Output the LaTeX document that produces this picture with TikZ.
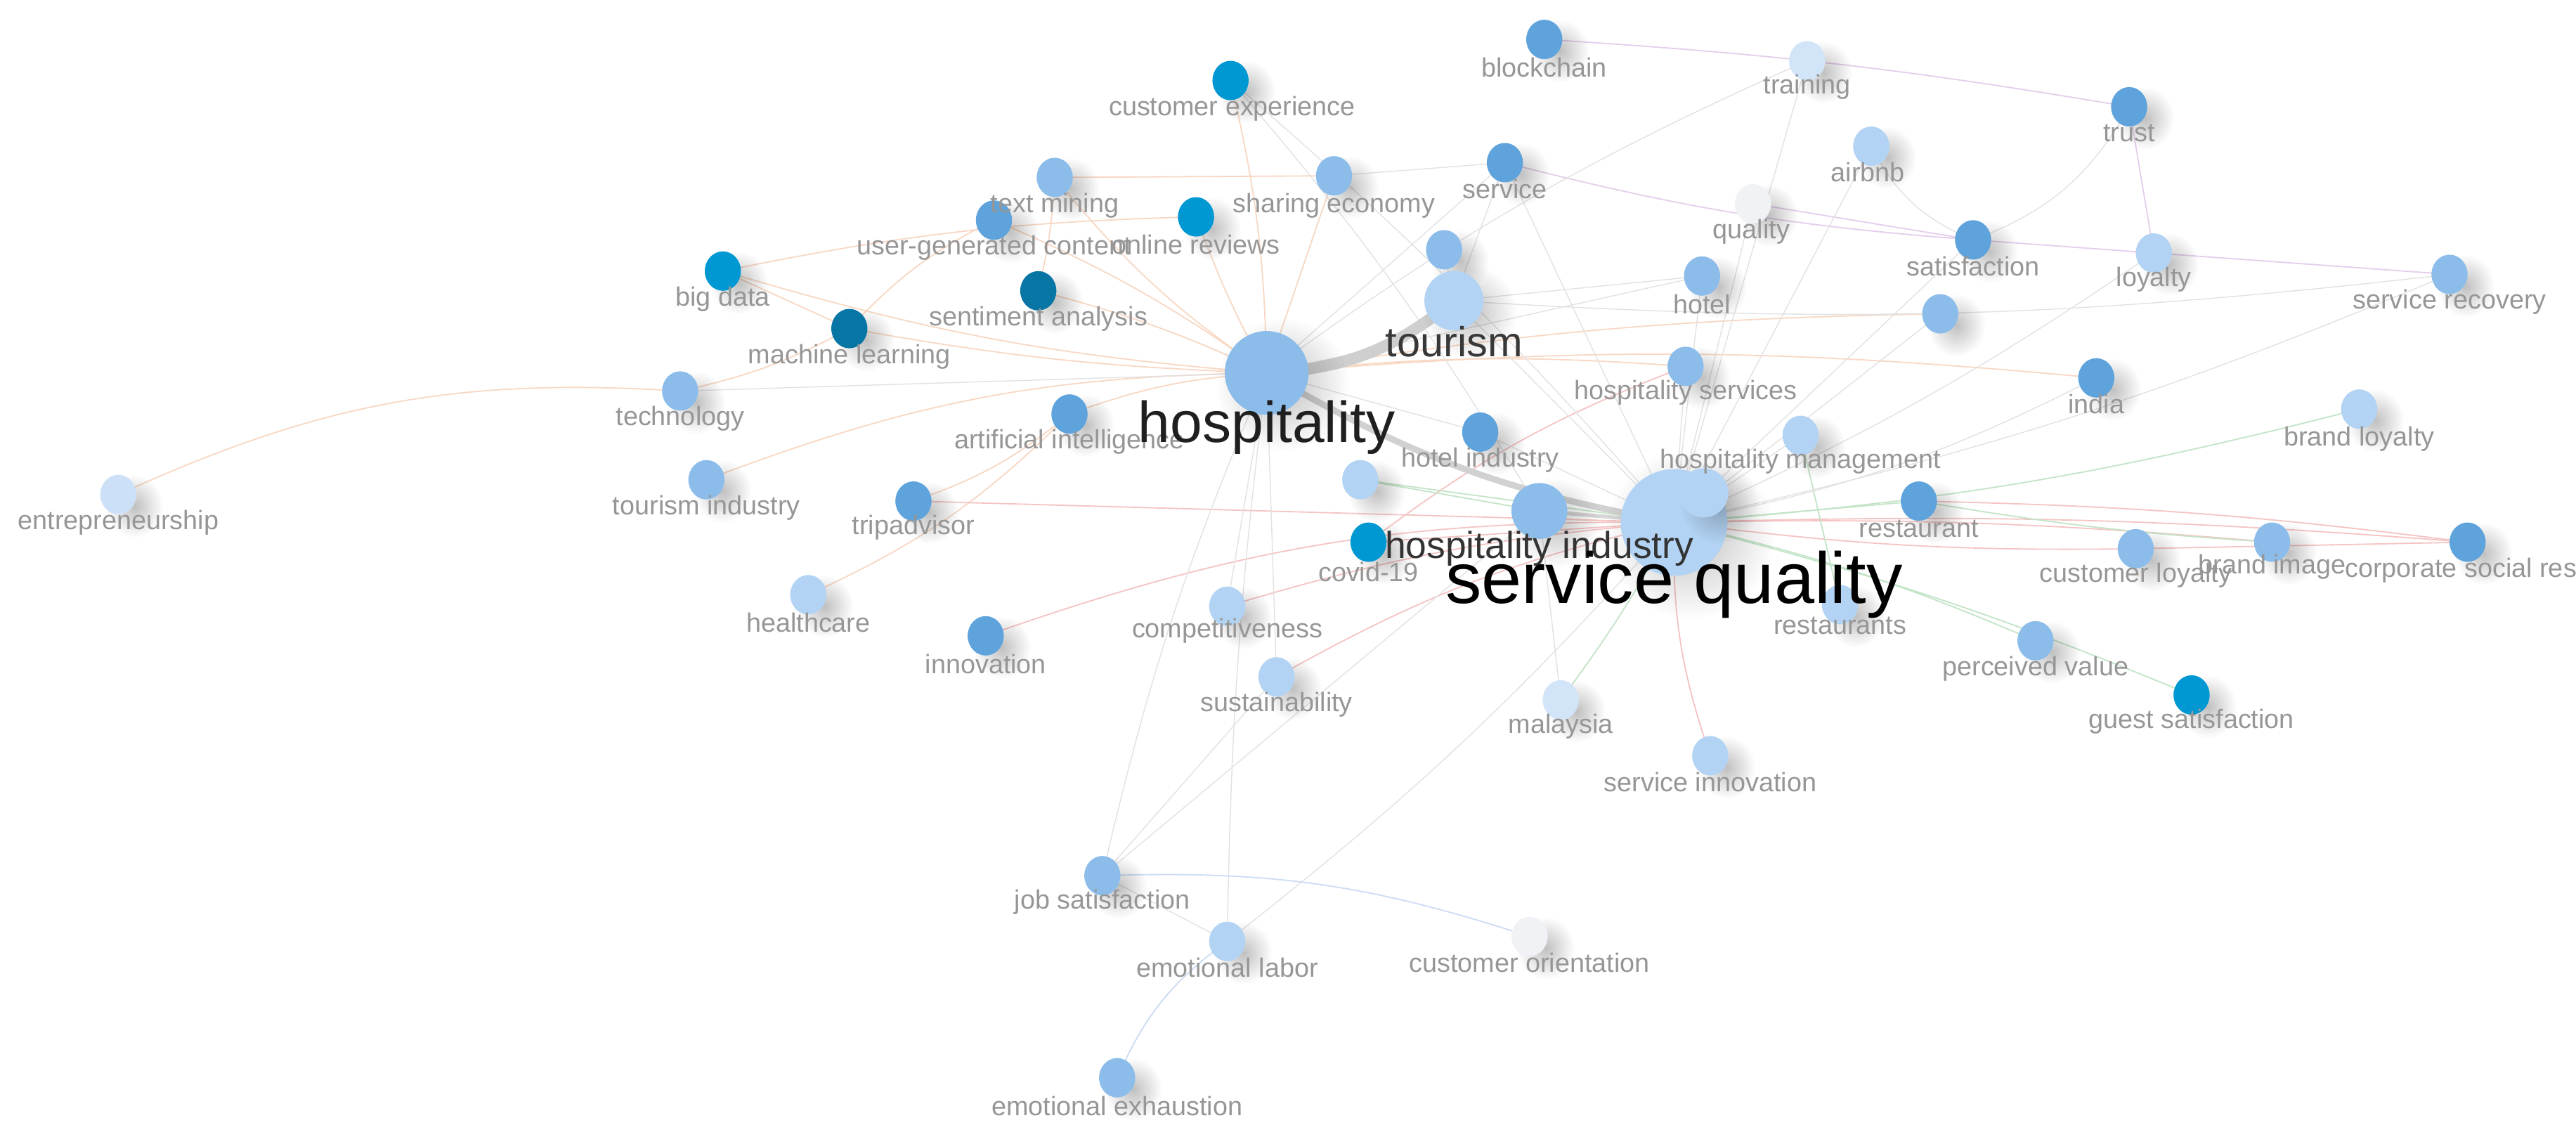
\documentclass[tikz,border=0pt]{standalone}
\usepackage{fontspec}
\setmainfont{Liberation Sans}
\usetikzlibrary{shapes.geometric,shadows,backgrounds,fadings}
\definecolor{cA}{RGB}{8,118,165}
\definecolor{cB}{RGB}{0,152,210}
\definecolor{cC}{RGB}{94,163,220}
\definecolor{cD}{RGB}{140,189,234}
\definecolor{cE}{RGB}{178,211,243}
\definecolor{cF}{RGB}{210,228,248}
\definecolor{cG}{RGB}{240,242,245}
\definecolor{lbl}{RGB}{150,150,150}
\definecolor{eO}{RGB}{248,216,196}
\definecolor{eR}{RGB}{245,196,196}
\definecolor{eG}{RGB}{196,228,200}
\definecolor{eP}{RGB}{228,206,236}
\definecolor{eK}{RGB}{226,226,226}
\definecolor{eB}{RGB}{204,220,244}
\tikzfading[name=fuzzshadow, inner color=transparent!45, outer color=transparent!100]
\tikzset{
  nd/.style={ellipse, inner sep=0pt, minimum width=0.44cm, minimum height=0.48cm,
    general shadow={fill=black, path fading=fuzzshadow, fit fading=true, shadow scale=1.6, shadow xshift=3.5pt, shadow yshift=-2.5pt, opacity=0.45}},
  big/.style={minimum width=#1, minimum height=#1},
  lb/.style={text=lbl, inner sep=0pt, font=\fontsize{9.2}{10}\selectfont},
  eo/.style={draw=eO, line width=0.45pt},
  er/.style={draw=eR, line width=0.45pt},
  eg/.style={draw=eG, line width=0.45pt},
  ep/.style={draw=eP, line width=0.45pt},
  ek/.style={draw=eK, line width=0.35pt},
  eb/.style={draw=eB, line width=0.45pt}
}
\begin{document}
\begin{tikzpicture}[x=0.02cm,y=0.02cm]
\useasboundingbox (0,0) rectangle (1568,-696);
% ---------- circles ----------
\node[nd, fill=cC] (bc) at (940,-24) {};
\node[nd, fill=cF] (tr) at (1100,-37) {};
\node[nd, fill=cC] (tu) at (1296,-65) {};
\node[nd, fill=cB] (ce) at (749,-49) {};
\node[nd, fill=cE] (ab) at (1139,-89) {};
\node[nd, fill=cD] (tm) at (642,-108) {};
\node[nd, fill=cD] (se) at (812,-107) {};
\node[nd, fill=cC] (sv) at (916,-99) {};
\node[nd, fill=cG] (qu) at (1067,-124) {};
\node[nd, fill=cC] (ug) at (605,-134) {};
\node[nd, fill=cB] (or) at (728,-132) {};
\node[nd, fill=cC] (sa) at (1201,-146) {};
\node[nd, fill=cE] (lo) at (1311,-154) {};
\node[nd, fill=cD] (sr) at (1491,-167) {};
\node[nd, fill=cB] (bd) at (440,-165) {};
\node[nd, fill=cA] (sn) at (632,-177) {};
\node[nd, fill=cD] (ho) at (1036,-168) {};
\node[nd, fill=cD] (u1) at (879,-152) {};
\node[nd, fill=cD] (u2) at (1181,-191) {};
\node[nd, fill=cA] (ml) at (517,-200) {};
\node[nd, fill=cD] (hs) at (1026,-223) {};
\node[nd, fill=cC] (in) at (1276,-230) {};
\node[nd, fill=cD] (te) at (414,-238) {};
\node[nd, fill=cC] (ai) at (651,-252) {};
\node[nd, fill=cC] (hi) at (901,-263) {};
\node[nd, fill=cE] (hm) at (1096,-265) {};
\node[nd, fill=cE] (bl) at (1436,-249) {};
\node[nd, fill=cF!80!cE] (en) at (72,-301) {};
\node[nd, fill=cD] (ti) at (430,-292) {};
\node[nd, fill=cC] (ta) at (556,-305) {};
\node[nd, fill=cE] (u3) at (828,-292) {};
\node[nd, fill=cC] (rt) at (1168,-305) {};
\node[nd, fill=cD] (cl) at (1300,-334) {};
\node[nd, fill=cD] (bi) at (1383,-330) {};
\node[nd, fill=cC] (cs) at (1502,-330) {};
\node[nd, fill=cE] (rs) at (1120,-368) {};
\node[nd, fill=cE] (hc) at (492,-362) {};
\node[nd, fill=cE] (cp) at (747,-369) {};
\node[nd, fill=cC] (iv) at (600,-387) {};
\node[nd, fill=cD] (pv) at (1239,-390) {};
\node[nd, fill=cB] (gs) at (1334,-423) {};
\node[nd, fill=cE] (su) at (777,-412) {};
\node[nd, fill=cF] (ma) at (950,-426) {};
\node[nd, fill=cE] (si) at (1041,-460) {};
\node[nd, fill=cD] (js) at (671,-533) {};
\node[nd, fill=cE] (el) at (747,-573) {};
\node[nd, fill=cG] (co) at (931,-570) {};
\node[nd, fill=cD] (ee) at (680,-656) {};
\node[nd, fill=cE, big=0.72cm] (to) at (885,-183) {};
\node[nd, fill=cD, big=1.02cm] (hp) at (771,-227) {};
\node[nd, fill=cD, big=0.68cm] (hn) at (937,-311) {};
\node[nd, fill=cE, big=1.3cm] (sq) at (1019,-318) {};
\node[nd, fill=cE, big=0.6cm] (u4) at (1037,-300) {};
\node[nd, fill=cB] (cv) at (833,-330) {};
% ---------- labels ----------
\node[lb] (l-bc) at (940,-41) {blockchain};
\node[lb] (l-tr) at (1100,-53) {training};
\node[lb] (l-tu) at (1296,-81) {trust};
\node[lb] (l-ce) at (750,-66) {customer experience};
\node[lb] (l-ab) at (1137,-105) {airbnb};
\node[lb] (l-tm) at (642,-125) {text mining};
\node[lb] (l-se) at (812,-125) {sharing economy};
\node[lb] (l-sv) at (916,-115) {service};
\node[lb] (l-qu) at (1066,-141) {quality};
\node[lb] (l-ug) at (605,-151) {user-generated content};
\node[lb] (l-or) at (728,-149) {online reviews};
\node[lb] (l-sa) at (1201,-162) {satisfaction};
\node[lb] (l-lo) at (1311,-170) {loyalty};
\node[lb] (l-sr) at (1491,-184) {service recovery};
\node[lb] (l-bd) at (440,-182) {big data};
\node[lb] (l-sn) at (632,-194) {sentiment analysis};
\node[lb] (l-ho) at (1036,-185) {hotel};
\node[lb] (l-ml) at (517,-217) {machine learning};
\node[lb] (l-hs) at (1026,-239) {hospitality services};
\node[lb] (l-in) at (1276,-246) {india};
\node[lb] (l-te) at (414,-255) {technology};
\node[lb] (l-ai) at (651,-269) {artificial intelligence};
\node[lb] (l-hi) at (901,-280) {hotel industry};
\node[lb] (l-hm) at (1096,-281) {hospitality management};
\node[lb] (l-bl) at (1436,-267) {brand loyalty};
\node[lb] (l-en) at (72,-318) {entrepreneurship};
\node[lb] (l-ti) at (430,-309) {tourism industry};
\node[lb] (l-ta) at (556,-321) {tripadvisor};
\node[lb] (l-rt) at (1168,-322) {restaurant};
\node[lb] (l-cv) at (833,-348) {covid-19};
\node[lb] (l-cl) at (1300,-350) {customer loyalty};
\node[lb] (l-bi) at (1383,-345) {brand image};
\node[lb, anchor=west] (l-cs) at (1427,-347) {corporate social responsibility};
\node[lb] (l-rs) at (1120,-381) {restaurants};
\node[lb] (l-hc) at (492,-379) {healthcare};
\node[lb] (l-cp) at (747,-384) {competitiveness};
\node[lb] (l-iv) at (600,-404) {innovation};
\node[lb] (l-pv) at (1239,-407) {perceived value};
\node[lb] (l-gs) at (1334,-439) {guest satisfaction};
\node[lb] (l-su) at (777,-429) {sustainability};
\node[lb] (l-ma) at (950,-442) {malaysia};
\node[lb] (l-si) at (1041,-476) {service innovation};
\node[lb] (l-js) at (671,-549) {job satisfaction};
\node[lb] (l-el) at (747,-589) {emotional labor};
\node[lb] (l-co) at (931,-586) {customer orientation};
\node[lb] (l-ee) at (680,-673) {emotional exhaustion};
\node[inner sep=0pt, text=black!78, font=\fontsize{14.5}{16}\selectfont] (l-to) at (885,-208) {tourism};
\node[inner sep=0pt, text=black!88, font=\fontsize{20}{22}\selectfont] (l-hp) at (771,-260) {hospitality};
\node[inner sep=0pt, text=black!80, font=\fontsize{13}{15}\selectfont] (l-hn) at (937,-334) {hospitality industry};
\node[inner sep=0pt, text=black, font=\fontsize{25}{28}\selectfont] (l-sq) at (1019,-356) {service quality};
% ---------- connectors ----------
\begin{pgfonlayer}{background}
% orange cluster
\draw[eo] (hp.center) to[bend left=6] (bd.center);
\draw[eo] (hp.center) to[bend left=4] (ml.center);
\draw[eo] (hp.center) to[bend right=5] (sn.center);
\draw[eo] (hp.center) to[bend left=8] (tm.center);
\draw[eo] (hp.center) to[bend right=6] (ug.center);
\draw[eo] (hp.center) to[bend left=4] (or.center);
\draw[eo] (hp.center) to[bend right=8] (ai.center);
\draw[eo] (hp.center) to[bend right=10] (ti.center);
\draw[eo] (hp.center) to[bend right=6] (ce.center);
\draw[eo] (hp.center) -- (se.center);
\draw[eo] (hp.center) to[bend left=4] (u2.center);
\draw[eo] (hp.center) to[bend left=5] (hs.center);
\draw[eo] (en.center) to[bend left=14] (te.center);
\draw[eo] (ml.center) to[bend left=8] (te.center);
\draw[eo] (tm.center) -- (se.center);
\draw[eo] (tm.center) to[bend left=5] (sn.center);
\draw[eo] (bd.center) to[bend left=5] (or.center);
\draw[eo] (bd.center) -- (ml.center);
\draw[eo] (ug.center) to[bend right=10] (ml.center);
\draw[eo] (hc.center) to[bend right=10] (ai.center);
\draw[eo] (ta.center) to[bend right=10] (ai.center);
\draw[eo] (hp.center) to[bend left=5] (in.center);
% red cluster
\draw[er] (ta.center) -- (sq.center);
\draw[er] (iv.center) to[bend left=10] (sq.center);
\draw[er] (cv.center) -- (sq.center);
\draw[er] (su.center) to[bend left=8] (sq.center);
\draw[er] (cp.center) to[bend left=6] (sq.center);
\draw[er] (sq.center) to[bend right=4] (cl.center);
\draw[er] (sq.center) to[bend left=3] (bi.center);
\draw[er] (sq.center) to[bend left=3] (cs.center);
\draw[er] (sq.center) to[bend right=10] (si.center);
\draw[er] (cl.center) -- (cs.center);
\draw[er] (rt.center) to[bend left=3] (cs.center);
\draw[er] (cv.center) to[bend left=8] (hs.center);
% green cluster
\draw[eg] (sq.center) to[bend right=5] (bl.center);
\draw[eg] (sq.center) to[bend left=4] (ma.center);
\draw[eg] (sq.center) to[bend left=5] (pv.center);
\draw[eg] (sq.center) to[bend left=4] (gs.center);
\draw[eg] (sq.center) -- (rt.center);
\draw[eg] (u3.center) -- (sq.center);
\draw[eg] (u3.center) -- (hn.center);
\draw[eg] (hm.center) -- (rs.center);
\draw[eg] (rt.center) to[bend right=3] (bi.center);
% purple cluster
\draw[ep] (bc.center) to[bend left=3] (tu.center);
\draw[ep] (sv.center) to[bend right=5] (sa.center);
\draw[ep] (qu.center) -- (sa.center);
\draw[ep] (sa.center) -- (lo.center);
\draw[ep] (lo.center) -- (sr.center);
\draw[ep] (tu.center) -- (lo.center);
% grey
\draw[ek] (to.center) -- (u1.center);
\draw[ek] (to.center) -- (sq.center);
\draw[ek] (to.center) -- (ho.center);
\draw[ek] (to.center) -- (sv.center);
\draw[ek] (to.center) to[bend right=5] (sr.center);
\draw[ek] (ce.center) to[bend left=5] (hn.center);
\draw[ek] (ce.center) to[bend left=4] (sq.center);
\draw[ek] (tr.center) to[bend right=6] (hp.center);
\draw[ek] (tr.center) -- (sq.center);
\draw[ek] (ab.center) to[bend right=20] (sa.center);
\draw[ek] (ab.center) -- (sq.center);
\draw[ek] (sa.center) to[bend right=20] (tu.center);
\draw[ek] (sa.center) -- (sq.center);
\draw[ek] (lo.center) to[bend left=5] (sq.center);
\draw[ek] (sr.center) to[bend left=5] (sq.center);
\draw[ek] (u2.center) -- (sq.center);
\draw[ek] (ho.center) -- (sq.center);
\draw[ek] (hs.center) -- (sq.center);
\draw[ek] (hm.center) -- (sq.center);
\draw[ek] (hi.center) -- (sq.center);
\draw[ek] (hi.center) -- (hp.center);
\draw[ek] (js.center) to[bend left=5] (hp.center);
\draw[ek] (js.center) -- (su.center);
\draw[ek] (js.center) -- (hn.center);
\draw[ek] (js.center) -- (el.center);
\draw[ek] (el.center) to[bend left=3] (hp.center);
\draw[ek] (el.center) to[bend right=5] (sq.center);
\draw[ek] (cp.center) -- (hp.center);
\draw[ek] (su.center) -- (hp.center);
\draw[ek] (ma.center) -- (hn.center);
\draw[ek] (qu.center) -- (sq.center);
\draw[ek] (hp.center) -- (sv.center);
\draw[ek] (hp.center) -- (ho.center);
\draw[ek] (sv.center) -- (sq.center);
\draw[ek] (se.center) -- (sv.center);
\draw[ek] (hp.center) -- (te.center);
\draw[ek] (in.center) to[bend left=8] (sq.center);
% blue
\draw[eb] (js.center) to[bend left=10] (co.center);
\draw[eb] (el.center) to[bend right=15] (ee.center);
% heavy links
\draw[draw=black!19, line width=4pt] (hp.center) to[bend right=18] (to.center);
\draw[draw=black!18, line width=2.2pt] (hp.center) to[bend right=10] (sq.center);
\draw[draw=black!16, line width=1.3pt] (hn.center) -- (sq.center);
\end{pgfonlayer}
\end{tikzpicture}
\end{document}
